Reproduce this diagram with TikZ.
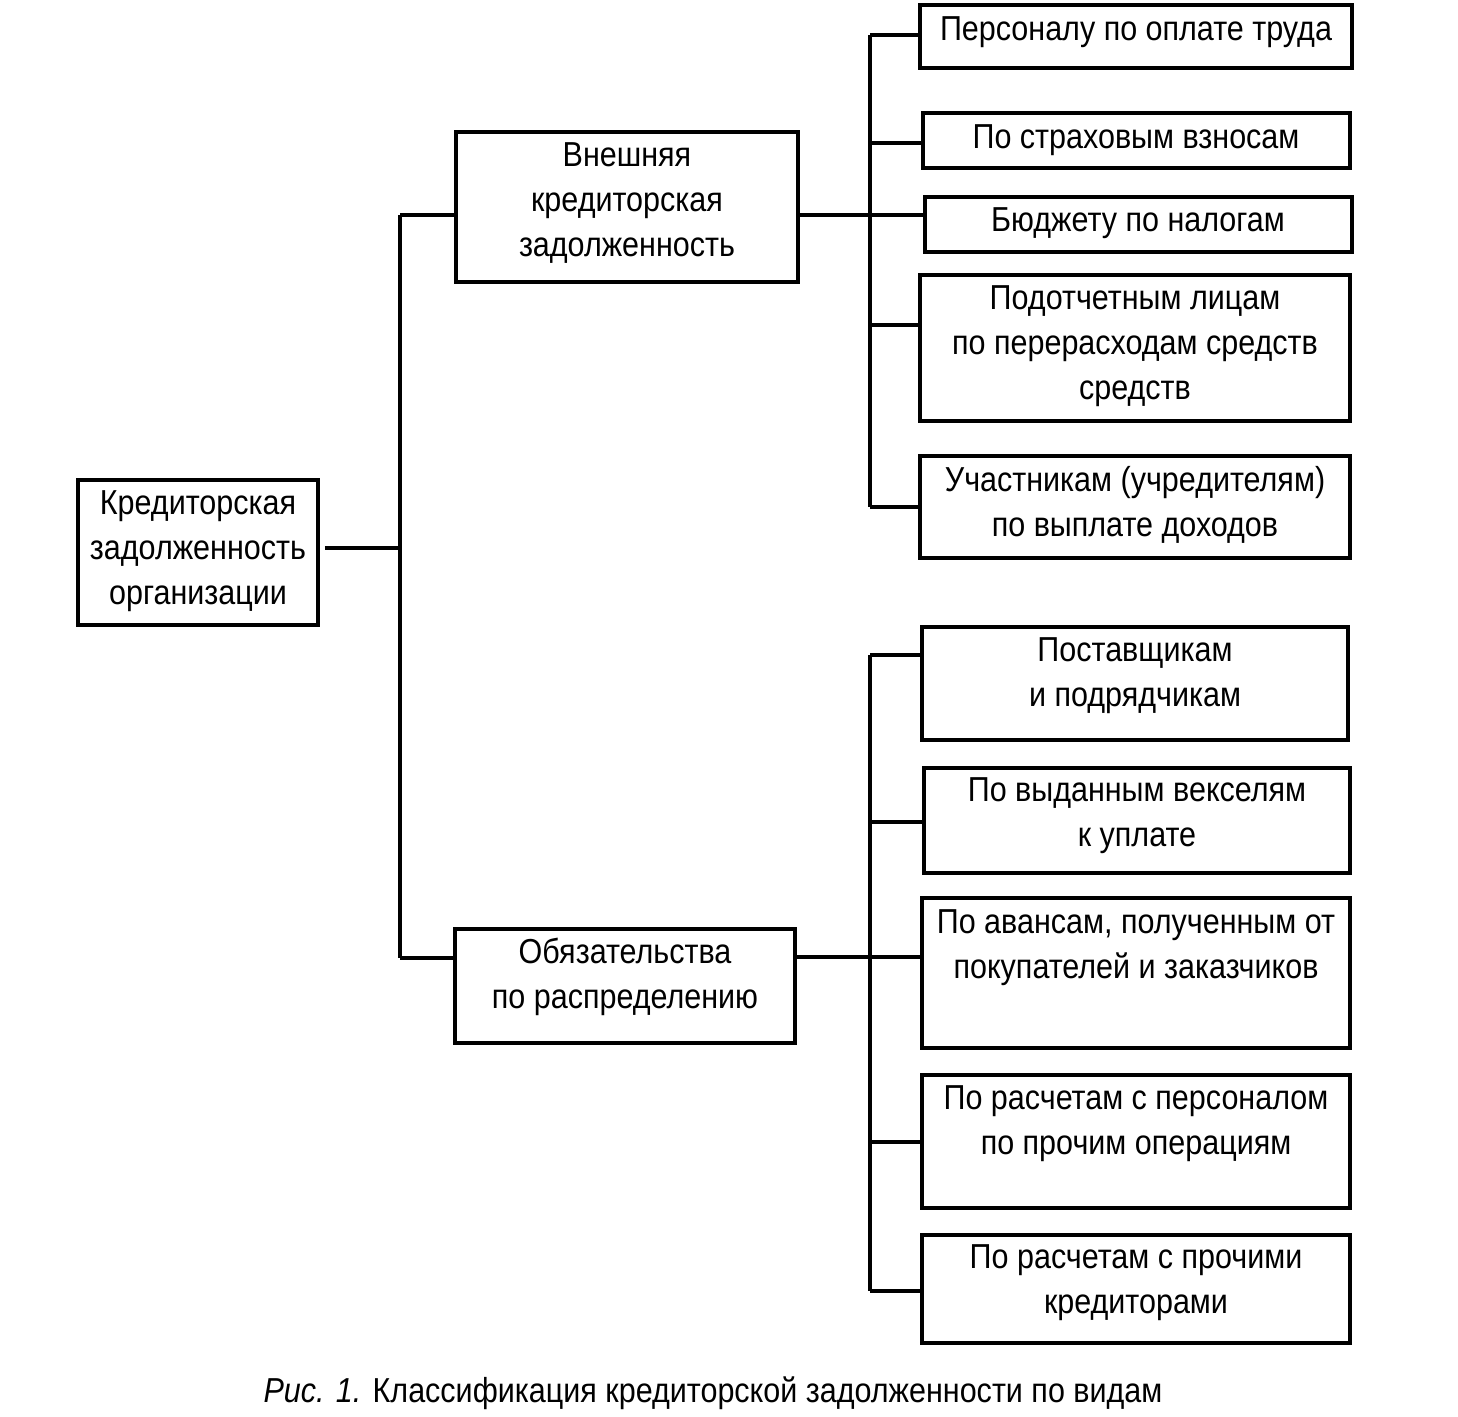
\documentclass[tikz,border=0pt]{standalone}
\usepackage{fontspec}
\setmainfont{Liberation Sans}[FakeStretch=0.88]
\usetikzlibrary{fit}
\begin{document}
\begin{tikzpicture}[x=0.75pt,y=-0.75pt,
  box/.style={draw, line width=2.3pt, inner sep=0pt},
  lbl/.style={align=center, inner sep=0pt, font=\fontsize{26}{33.75}\selectfont},
  conn/.style={line width=2.4pt}]
\useasboundingbox (0,0) rectangle (1458,1416);
% boxes
\node[box, fit={(78,480) (318,625)}] (root) {};
\node[box, fit={(456,132) (798,282)}] (ext) {};
\node[box, fit={(455,929) (795,1043)}] (obl) {};
\node[box, fit={(920,5) (1352,68)}] (r1) {};
\node[box, fit={(923,113) (1350,168)}] (r2) {};
\node[box, fit={(925,197) (1352,252)}] (r3) {};
\node[box, fit={(920,275) (1350,421)}] (r4) {};
\node[box, fit={(920,456) (1350,558)}] (r5) {};
\node[box, fit={(922,627) (1348,740)}] (r6) {};
\node[box, fit={(924,768) (1350,873)}] (r7) {};
\node[box, fit={(922,898) (1350,1048)}] (r8) {};
\node[box, fit={(922,1075) (1350,1208)}] (r9) {};
\node[box, fit={(922,1235) (1350,1343)}] (r10) {};
% texts
\node[lbl] (root-t) at (198,550) {\strut Кредиторская\\задолженность\\организации\strut};
\node[lbl] (ext-t) at (627,202) {\strut Внешняя\\кредиторская\\задолженность\strut};
\node[lbl] (obl-t) at (625,976.5) {\strut Обязательства\\по распределению\strut};
\node[lbl] (r1-t) at (1136,32) {\strut Персоналу по оплате труда};
\node[lbl] (r2-t) at (1136,139) {\strut По страховым взносам};
\node[lbl] (r3-t) at (1138,222) {\strut Бюджету по налогам};
\node[lbl] (r4-t) at (1135,345) {\strut Подотчетным лицам\\по перерасходам средств\\средств\strut};
\node[lbl] (r5-t) at (1135,504.5) {\strut Участникам (учредителям)\\по выплате доходов\strut};
\node[lbl] (r6-t) at (1135,674.5) {\strut Поставщикам\\и подрядчикам\strut};
\node[lbl] (r7-t) at (1137,814.5) {\strut По выданным векселям\\к уплате\strut};
\node[lbl] (r8-t) at (1136,946.5) {\strut По авансам, полученным от\\покупателей и заказчиков\strut};
\node[lbl] (r9-t) at (1136,1122.5) {\strut По расчетам с персоналом\\по прочим операциям\strut};
\node[lbl] (r10-t) at (1136,1281.5) {\strut По расчетам с прочими\\кредиторами\strut};
\node[lbl] (cap) at (713,1393) {\strut\textit{Рис. 1.} Классификация кредиторской задолженности по видам};
% junction coordinates
\coordinate (a1) at (400,215);
\coordinate (a2) at (400,958);
\coordinate (a0) at (400,548);
\coordinate (e0) at (870,215);
\coordinate (e1) at (870,35);
\coordinate (e2) at (870,143);
\coordinate (e4) at (870,325);
\coordinate (e5) at (870,507);
\coordinate (o0) at (870,957);
\coordinate (o6) at (870,655);
\coordinate (o7) at (870,822);
\coordinate (o9) at (870,1142);
\coordinate (o10) at (870,1291);
% buses
\draw[conn] (a1) -- (a2);
\draw[conn] (e1) -- (e5);
\draw[conn] (o6) -- (o10);
% connectors
\draw[conn] ([xshift=4pt]root.east |- a0) -- (a0);
\draw[conn] (a1) -- (a1 -| ext.west);
\draw[conn] (a2) -- (a2 -| obl.west);
\draw[conn] (ext.east |- e0) -- (r3.west |- e0);
\draw[conn] (e1) -- (e1 -| r1.west);
\draw[conn] (e2) -- (e2 -| r2.west);
\draw[conn] (e4) -- (e4 -| r4.west);
\draw[conn] (e5) -- (e5 -| r5.west);
\draw[conn] (obl.east |- o0) -- (r8.west |- o0);
\draw[conn] (o6) -- (o6 -| r6.west);
\draw[conn] (o7) -- (o7 -| r7.west);
\draw[conn] (o9) -- (o9 -| r9.west);
\draw[conn] (o10) -- (o10 -| r10.west);
\end{tikzpicture}
\end{document}
